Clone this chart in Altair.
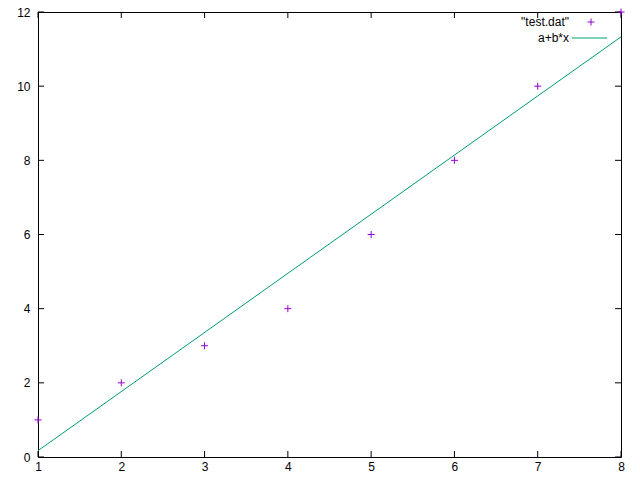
import altair as alt
import pandas as pd

# data
xs = [1, 2, 3, 4, 5, 6, 7, 8]
ys = [1, 2, 3, 4, 6, 8, 10, 12]
fit_x = [1, 8]
fit_y = [0.17, 11.33]
x_ticks = [1, 2, 3, 4, 5, 6, 7, 8]
y_ticks = [0, 2, 4, 6, 8, 10, 12]
legend_labels = ['"test.dat"', "a+b*x"]

W, H = 583, 445
PURPLE = "#9400D3"
GREEN = "#009E73"
FONT = "Liberation Sans"

pts = pd.DataFrame({"x": xs, "y": ys})
fit = pd.DataFrame({"x": fit_x, "y": fit_y})
xt = pd.DataFrame({"v": x_ticks})
yt = pd.DataFrame({"v": y_ticks})

xsc = alt.Scale(domain=[1, 8], nice=False, zero=False)
ysc = alt.Scale(domain=[0, 12], nice=False, zero=False)

xaxis = alt.Axis(values=x_ticks, format="d", ticks=False, grid=False, domain=False, labelFontSize=12,
                 labelFont=FONT, labelColor="black", labelPadding=4, title=None, labelFlush=False)
yaxis = alt.Axis(values=y_ticks, format="d", ticks=False, grid=False, domain=False, labelFontSize=12,
                 labelFont=FONT, labelColor="black", labelPadding=8, title=None, labelFlush=False)

plus = "M-1,0H1M0,-1V1"

points = alt.Chart(pts).mark_point(shape=plus, size=49, filled=False, strokeWidth=1,
                                   color=PURPLE, opacity=1).encode(
    x=alt.X("x:Q", scale=xsc, axis=xaxis),
    y=alt.Y("y:Q", scale=ysc, axis=yaxis),
)

line = alt.Chart(fit).mark_line(color=GREEN, strokeWidth=1, clip=True).encode(
    x=alt.X("x:Q", scale=xsc),
    y=alt.Y("y:Q", scale=ysc),
)

tk = 6
xb = alt.Chart(xt).mark_rule(color="black", strokeWidth=1).encode(
    x=alt.X("v:Q", scale=xsc), y=alt.value(H), y2=alt.value(H - tk))
xtop = alt.Chart(xt).mark_rule(color="black", strokeWidth=1).encode(
    x=alt.X("v:Q", scale=xsc), y=alt.value(0), y2=alt.value(tk))
yl = alt.Chart(yt).mark_rule(color="black", strokeWidth=1).encode(
    y=alt.Y("v:Q", scale=ysc), x=alt.value(0), x2=alt.value(tk))
yr = alt.Chart(yt).mark_rule(color="black", strokeWidth=1).encode(
    y=alt.Y("v:Q", scale=ysc), x=alt.value(W - tk), x2=alt.value(W))

one = pd.DataFrame({"k": [0]})
leg_t1 = alt.Chart(one).mark_text(align="right", baseline="middle", fontSize=12, font=FONT,
                                  color="black", text=legend_labels[0]).encode(
    x=alt.value(531), y=alt.value(10))
leg_t2 = alt.Chart(one).mark_text(align="right", baseline="middle", fontSize=12, font=FONT,
                                  color="black", text=legend_labels[1]).encode(
    x=alt.value(531), y=alt.value(26))
leg_pt = alt.Chart(one).mark_point(
    shape=plus, size=49, filled=False, strokeWidth=1, color=PURPLE, opacity=1).encode(
    x=alt.value(553), y=alt.value(10))
leg_line = alt.Chart(one).mark_rule(color=GREEN, strokeWidth=1).encode(
    x=alt.value(534), x2=alt.value(569), y=alt.value(26))

chart = alt.layer(line, xb, xtop, yl, yr, points, leg_t1, leg_t2, leg_pt, leg_line).properties(
    width=W, height=H,
    padding={"left": 30, "top": 4, "right": 11, "bottom": 15},
    autosize=alt.AutoSizeParams(type="none"),
    background="white",
).configure_view(stroke="black", strokeWidth=1)

chart.save("out.html", embed_options={"renderer": "svg", "actions": False})
